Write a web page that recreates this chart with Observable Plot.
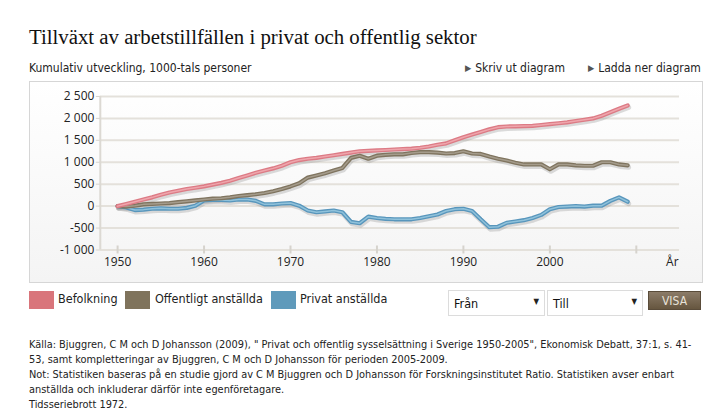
<!DOCTYPE html>
<html>
<head>
<meta charset="utf-8">
<script src="https://cdn.jsdelivr.net/npm/d3@7"></script>
<script src="https://cdn.jsdelivr.net/npm/@observablehq/plot@0.6"></script>
<style>
  html, body { margin: 0; padding: 0; background: #fff; }
  body { width: 721px; height: 420px; position: relative; overflow: hidden; }
  .abs { position: absolute; white-space: nowrap; }
  .title { left: 29px; top: 25px; font-family: "Liberation Serif", serif; font-size: 20.8px; color: #111; }
  .narrow { font-family: "DejaVu Sans Condensed", "DejaVu Sans", sans-serif; font-stretch: condensed; }
  .sub { left: 29px; top: 61px; font-size: 12px; color: #222; }
  .link { top: 61px; font-size: 12px; color: #222; }
  .link span.tri { font-size: 9px; color: #555; margin-right: 4px; position: relative; top: -1px; }
  #frame { left: 29px; top: 81px; width: 672px; height: 200px; border: 1px solid #d6d6d6;
           background: linear-gradient(#ffffff, #f4f4f4); }
  #chart { position: absolute; left: -1px; top: -1px; }
  .sw { width: 25px; height: 18px; top: 291px; }
  .lg { top: 291px; font-size: 12.5px; color: #222; }
  .sel { top: 290px; height: 26px; background: #fff; border: 1px solid #dcdcdc; box-sizing: border-box;
         font-size: 12.5px; color: #111; padding: 5px 0 0 5px; }
  .sel .arr { position: absolute; right: 5px; top: 6px; font-size: 8px; color: #222; }
  .btn { left: 648px; top: 291px; width: 53px; height: 19px; background: linear-gradient(#8b7b68, #66563f);
         color: #e8e2d8; font-size: 12px; text-align: center; line-height: 18px; border: 1px solid #5a4c3a; box-sizing: border-box; }
  .foot { left: 29px; top: 337px; font-size: 10.9px; line-height: 15px; color: #222; }
</style>
</head>
<body>
<script>
// ---- Data ----
const years = [1950,1951,1952,1953,1954,1955,1956,1957,1958,1959,
               1960,1961,1962,1963,1964,1965,1966,1967,1968,1969,
               1970,1971,1972,1973,1974,1975,1976,1977,1978,1979,
               1980,1981,1982,1983,1984,1985,1986,1987,1988,1989,
               1990,1991,1992,1993,1994,1995,1996,1997,1998,1999,
               2000,2001,2002,2003,2004,2005,2006,2007,2008,2009];

const befolkning = [0,50,100,150,200,260,310,350,390,420,
                    450,490,530,580,640,700,760,810,860,920,
                    1000,1050,1080,1100,1130,1160,1190,1220,1250,1260,
                    1270,1280,1290,1300,1310,1330,1360,1400,1430,1500,
                    1570,1630,1690,1750,1800,1815,1820,1825,1830,1850,
                    1870,1890,1910,1940,1970,2000,2060,2140,2220,2295];

const offentligt = [0,-10,10,40,50,60,70,90,110,130,
                    150,170,180,200,230,250,270,300,340,390,
                    450,520,650,700,750,810,870,1100,1150,1080,
                    1150,1170,1180,1180,1210,1230,1230,1220,1200,1210,
                    1250,1200,1190,1130,1080,1040,990,950,950,950,
                    840,950,950,930,920,920,1000,1000,950,930];

const privat = [0,-30,-90,-80,-60,-50,-60,-60,-40,10,
                130,140,140,130,150,150,120,40,40,60,
                70,10,-100,-140,-120,-100,-140,-360,-390,-240,
                -270,-290,-300,-300,-300,-270,-230,-190,-110,-70,
                -60,-110,-300,-480,-470,-380,-350,-320,-270,-200,
                -70,-20,-10,0,-10,10,10,120,200,100];

const seriesNames = ["Befolkning", "Offentligt anställda", "Privat anställda"];
const seriesValues = [befolkning, offentligt, privat];
const yTicks = [-1000, -500, 0, 500, 1000, 1500, 2000, 2500];
const xTicks = [1950, 1960, 1970, 1980, 1990, 2000, 2010];
const xLabels = ["1950", "1960", "1970", "1980", "1990", "2000", ""];
const axisTitle = "År";

const lineEdge = ["#dc7b85", "#7f745f", "#5896bc"];
const lineCore = ["#efa6ad", "#a59c8c", "#90c2db"];
const swatch = ["#d9757b", "#7f735c", "#5f9abb"];

const table = [];
seriesNames.forEach((s, i) => years.forEach((yr, j) => table.push({series: s, year: yr, value: seriesValues[i][j]})));

const loc = d3.formatLocale({decimal: ",", thousands: " ", grouping: [3], currency: ["", ""], minus: "-"});
const fmt = loc.format(",d");

// ---- Header ----
document.body.insertAdjacentHTML("beforeend", `
  <div class="abs title">Tillväxt av arbetstillfällen i privat och offentlig sektor</div>
  <div class="abs sub narrow">Kumulativ utveckling, 1000-tals personer</div>
  <div class="abs link narrow" style="left:465px"><span class="tri">&#9654;</span>Skriv ut diagram</div>
  <div class="abs link narrow" style="left:588px"><span class="tri">&#9654;</span>Ladda ner diagram</div>
  <div class="abs" id="frame"></div>
`);

const marks = [
  Plot.ruleY(yTicks, {stroke: "#e4e1db", strokeWidth: 2}),
  Plot.ruleX([1948], {y1: -1000, y2: 2500, stroke: "#dcd9d3", strokeWidth: 2}),
  Plot.axisY({ticks: yTicks, label: null, tickSize: 4, tickPadding: 2, tickFormat: fmt, stroke: "#d6d3cd",
              fontSize: 12, fill: "#222"}),
  Plot.axisX({ticks: xTicks, label: null, tickSize: 8, tickFormat: () => "", dy: -4, stroke: "#d6d3cd", strokeWidth: 2}),
  Plot.axisX({ticks: xTicks, label: null, tickSize: 0, tickPadding: 8, tickFormat: d => xLabels[xTicks.indexOf(d)], fontSize: 12, fill: "#222"}),
  Plot.text([axisTitle], {text: d => d, frameAnchor: "bottom-right", textAnchor: "end", lineAnchor: "top", dx: -1, dy: 8, fontSize: 12, fill: "#222"})
];
seriesNames.forEach((s, i) => {
  const d = table.filter(r => r.series === s);
  marks.push(Plot.line(d, {x: "year", y: "value", stroke: "#8a8a8a", strokeOpacity: 0.3, strokeWidth: 5, dx: 1, dy: 2}));
});
[2, 1, 0].forEach(i => {
  const d = table.filter(r => r.series === seriesNames[i]);
  marks.push(Plot.line(d, {x: "year", y: "value", stroke: lineEdge[i], strokeWidth: 4.2}));
  marks.push(Plot.line(d, {x: "year", y: "value", stroke: lineCore[i], strokeWidth: 1.5}));
});

const chart = Plot.plot({
  width: 674, height: 202,
  marginLeft: 71, marginRight: 22, marginTop: 15, marginBottom: 33,
  x: {domain: [1948, 2015], axis: null},
  y: {domain: [-1000, 2500], axis: null},
  style: {background: "transparent", fontFamily: "'Open Sans', 'Noto Sans', sans-serif", fontSize: "12px", color: "#222"},
  marks
});
chart.id = "chart";
document.getElementById("frame").appendChild(chart);

// ---- Legend & controls ----
const lgX = [[29, 58], [125, 155], [271, 300]];
let html = "";
seriesNames.forEach((s, i) => {
  html += `<div class="abs sw" style="left:${lgX[i][0]}px;background:${swatch[i]}"></div>`;
  html += `<div class="abs lg narrow" style="left:${lgX[i][1]}px">${s}</div>`;
});
html += `<div class="abs sel narrow" style="left:448px;width:97px">Från<span class="arr">&#9660;</span></div>`;
html += `<div class="abs sel narrow" style="left:547px;width:96px">Till<span class="arr">&#9660;</span></div>`;
html += `<div class="abs btn narrow">VISA</div>`;
html += `<div class="abs foot narrow">Källa: Bjuggren, C M och D Johansson (2009), " Privat och offentlig sysselsättning i Sverige 1950-2005", Ekonomisk Debatt, 37:1, s. 41-<br>53, samt kompletteringar av Bjuggren, C M och D Johansson för perioden 2005-2009.<br>Not: Statistiken baseras på en studie gjord av C M Bjuggren och D Johansson för Forskningsinstitutet Ratio. Statistiken avser enbart<br>anställda och inkluderar därför inte egenföretagare.<br>Tidsseriebrott 1972.</div>`;
document.body.insertAdjacentHTML("beforeend", html);
</script>
</body>
</html>
